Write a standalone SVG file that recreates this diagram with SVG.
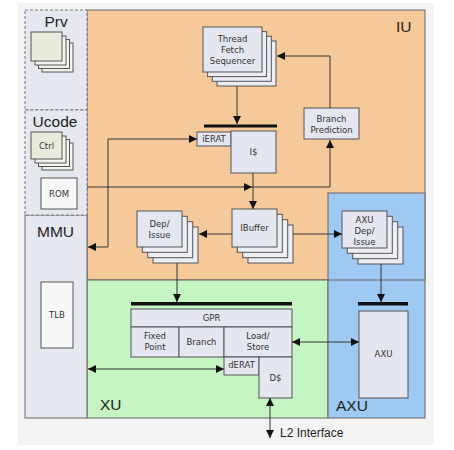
<svg xmlns="http://www.w3.org/2000/svg" width="454" height="450" viewBox="0 0 454 450">
<defs>
<style>
.reg{stroke:#666;stroke-width:1}
.box{fill:#e4e6f0;stroke:#555;stroke-width:1}
.back{fill:#eceef4;stroke:#555;stroke-width:1}
.pbox{fill:#e9ecdc;stroke:#555;stroke-width:1}
.pback{fill:#f4f4ee;stroke:#555;stroke-width:1}
.wbox{fill:#f8f8f8;stroke:#555;stroke-width:1}
.big{font-family:"Liberation Sans",Arial,sans-serif;font-size:15.5px;fill:#222}
.lbl{font-family:"DejaVu Sans",Verdana,sans-serif;font-size:8.5px;fill:#333;text-anchor:middle}
.con{fill:none;stroke:#333;stroke-width:1}
.bar{fill:#111}
</style>
<marker id="ah" markerUnits="userSpaceOnUse" markerWidth="9" markerHeight="9" refX="8" refY="4" orient="auto-start-reverse" viewBox="0 0 9 9">
<path d="M0,0 L8,4 L0,8 z" fill="#111"/>
</marker>
</defs>
<rect x="0" y="0" width="454" height="450" fill="#ffffff"/>
<rect x="18" y="3" width="416" height="442" fill="#f4f4f4"/>

<g id="regions">
<rect id="iu-region" class="reg" x="87" y="10" width="338" height="270" fill="#f6c99a"/>
<rect id="xu-region" class="reg" x="87" y="280" width="241" height="138" fill="#c6f5c4"/>
<rect id="axu-region" class="reg" x="328" y="193" width="97" height="225" fill="#9ec9f2"/>
<line class="reg" x1="328" y1="280" x2="425" y2="280"/>
<rect id="mmu-region" class="reg" x="25" y="215" width="62" height="203" fill="#e6e8f0"/>
<rect id="prv-region" x="25" y="10" width="62" height="100" fill="#e6e8f0" stroke="#777" stroke-dasharray="3,2"/>
<rect id="ucode-region" x="25" y="110" width="62" height="105" fill="#e6e8f0" stroke="#777" stroke-dasharray="3,2"/>
<text class="big" x="56" y="27" text-anchor="middle">Prv</text>
<text class="big" x="55" y="127" text-anchor="middle">Ucode</text>
<text class="big" x="37" y="237">MMU</text>
<text class="big" x="396" y="32">IU</text>
<text class="big" x="100" y="410">XU</text>
<text class="big" x="336" y="411">AXU</text>
</g>

<g id="prv-stack">
<rect class="pback" x="42" y="43" width="31" height="29"/>
<rect class="pback" x="38.5" y="39.5" width="31" height="29"/>
<rect class="pback" x="35" y="36" width="31" height="29"/>
<rect class="pbox" x="31" y="32" width="31" height="29"/>
</g>

<g id="ctrl">
<rect class="pback" x="42" y="143" width="31" height="27"/>
<rect class="pback" x="38.5" y="139.5" width="31" height="27"/>
<rect class="pback" x="35" y="136" width="31" height="27"/>
<rect class="pbox" x="31" y="132" width="31" height="27"/>
<text class="lbl" x="46.5" y="149">Ctrl</text>
</g>

<g id="rom">
<rect class="wbox" x="41" y="178" width="36" height="31"/>
<text class="lbl" x="59" y="197">ROM</text>
</g>

<g id="tlb">
<rect class="wbox" x="41" y="282" width="32" height="66"/>
<text class="lbl" x="57" y="318">TLB</text>
</g>

<g id="thread-fetch-sequencer">
<rect class="back" x="217" y="41" width="59" height="45"/>
<rect class="back" x="212.3" y="36.3" width="59" height="45"/>
<rect class="back" x="207.6" y="31.6" width="59" height="45"/>
<rect class="box" x="203" y="27" width="59" height="45"/>
<text class="lbl" x="232.5" y="42">Thread</text>
<text class="lbl" x="232.5" y="53">Fetch</text>
<text class="lbl" x="232.5" y="64">Sequencer</text>
</g>

<g id="branch-prediction">
<rect class="box" x="304" y="108" width="55" height="31"/>
<text class="lbl" x="331.5" y="122">Branch</text>
<text class="lbl" x="331.5" y="133">Prediction</text>
</g>

<g id="ierat">
<rect class="box" x="197" y="132" width="34" height="14"/>
<text class="lbl" x="214" y="142">iERAT</text>
</g>

<g id="icache">
<rect class="box" x="231" y="131" width="45" height="42"/>
<text class="lbl" x="253.5" y="155">I$</text>
</g>

<g id="ibuffer">
<rect class="back" x="248" y="225" width="45" height="38"/>
<rect class="back" x="242.7" y="219.7" width="45" height="38"/>
<rect class="back" x="237.3" y="214.3" width="45" height="38"/>
<rect class="box" x="232" y="209" width="45" height="38"/>
<text class="lbl" x="254.5" y="231">IBuffer</text>
</g>

<g id="dep-issue">
<rect class="back" x="153" y="227" width="45" height="36"/>
<rect class="back" x="147.7" y="221.7" width="45" height="36"/>
<rect class="back" x="142.3" y="216.3" width="45" height="36"/>
<rect class="box" x="137" y="211" width="45" height="36"/>
<text class="lbl" x="159.5" y="227">Dep/</text>
<text class="lbl" x="159.5" y="238">Issue</text>
</g>

<g id="axu-dep-issue">
<rect class="back" x="358" y="227" width="45" height="37"/>
<rect class="back" x="352.7" y="221.7" width="45" height="37"/>
<rect class="back" x="347.3" y="216.3" width="45" height="37"/>
<rect class="box" x="342" y="211" width="45" height="37"/>
<text class="lbl" x="364.5" y="223">AXU</text>
<text class="lbl" x="364.5" y="234">Dep/</text>
<text class="lbl" x="364.5" y="245">Issue</text>
</g>

<g id="gpr">
<rect class="box" x="131" y="309" width="161" height="18"/>
<text class="lbl" x="211.5" y="321">GPR</text>
</g>
<g id="fixed-point">
<rect class="box" x="131" y="327" width="48" height="30"/>
<text class="lbl" x="155" y="339">Fixed</text>
<text class="lbl" x="155" y="350">Point</text>
</g>
<g id="branch">
<rect class="box" x="179" y="327" width="45" height="30"/>
<text class="lbl" x="201.5" y="345">Branch</text>
</g>
<g id="load-store">
<rect class="box" x="224" y="327" width="68" height="30"/>
<text class="lbl" x="258" y="339">Load/</text>
<text class="lbl" x="258" y="350">Store</text>
</g>
<g id="derat">
<rect class="box" x="224" y="357" width="35" height="18"/>
<text class="lbl" x="241.5" y="368">dERAT</text>
</g>
<g id="dcache">
<rect class="box" x="259" y="357" width="33" height="41"/>
<text class="lbl" x="275.5" y="381">D$</text>
</g>

<g id="axu">
<rect class="box" x="359" y="311" width="49" height="87"/>
<text class="lbl" x="383.5" y="357">AXU</text>
</g>

<g id="bars">
<rect class="bar" x="204" y="124.5" width="73" height="3"/>
<rect class="bar" x="131" y="302" width="161" height="3.5"/>
<rect class="bar" x="358" y="302" width="50" height="3.5"/>
</g>

<g id="connectors">
<path class="con" d="M237,86 V124" marker-end="url(#ah)"/>
<path class="con" d="M330,108 V56 H277" marker-end="url(#ah)"/>
<path class="con" d="M197,139 H108 V247 H88" marker-start="url(#ah)" marker-end="url(#ah)"/>
<path class="con" d="M87,187 H252" marker-end="url(#ah)"/>
<path class="con" d="M252,187 H330 V140" marker-end="url(#ah)"/>
<path class="con" d="M253,173 V209" marker-end="url(#ah)"/>
<path class="con" d="M232,234 H199" marker-end="url(#ah)"/>
<path class="con" d="M293,234 H342" marker-end="url(#ah)"/>
<path class="con" d="M177,263 V302" marker-end="url(#ah)"/>
<path class="con" d="M381,264 V302" marker-end="url(#ah)"/>
<path class="con" d="M88,369 H224" marker-start="url(#ah)" marker-end="url(#ah)"/>
<path class="con" d="M292,342 H359" marker-start="url(#ah)" marker-end="url(#ah)"/>
<path class="con" d="M270,398 V438" marker-start="url(#ah)" marker-end="url(#ah)"/>
</g>
<text x="280" y="437" font-family="Liberation Sans, Arial, sans-serif" font-size="12" fill="#222">L2 Interface</text>
</svg>
